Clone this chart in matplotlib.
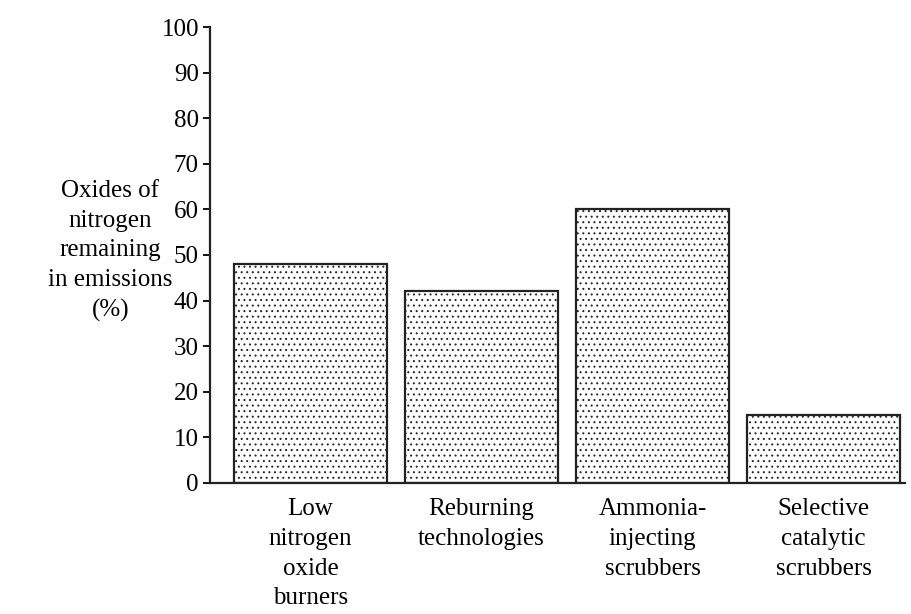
import numpy as np
import matplotlib.pyplot as plt

categories = ['Low\nnitrogen\noxide\nburners', 'Reburning\ntechnologies',
              'Ammonia-\ninjecting\nscrubbers', 'Selective\ncatalytic\nscrubbers']
values = [48, 42, 60, 15]
yticks = list(range(0, 101, 10))

plt.rcParams['font.family'] = ['Liberation Serif', 'DejaVu Serif']
plt.rcParams['hatch.color'] = '#8a8a8a'
plt.rcParams['hatch.linewidth'] = 0.7

fig = plt.figure(figsize=(9.11, 6.14), dpi=100)
ax = fig.add_axes([0.2305, 0.2134, 0.763, 0.7426])

x = np.arange(len(values))
ax.bar(x, values, width=0.895, color='white', edgecolor='#222222',
       linewidth=1.6, hatch='...')

ax.set_xlim(-0.588, 3.477)
ax.set_ylim(0, 100)
ax.set_yticks(yticks)
ax.set_xticks(x)
ax.set_xticklabels(categories, fontsize=18, linespacing=1.45, va='top')
ax.tick_params(axis='x', length=0, pad=11)
ax.tick_params(axis='y', labelsize=18, length=5, width=1.3, pad=3)

for s in ['top', 'right']:
    ax.spines[s].set_visible(False)
for s in ['left', 'bottom']:
    ax.spines[s].set_linewidth(1.6)
    ax.spines[s].set_color('#222222')

fig.text(0.121, 0.591, 'Oxides of\nnitrogen\nremaining\nin emissions\n(%)',
         ha='center', va='center', fontsize=18, linespacing=1.45)

fig.savefig('out.png', dpi=100)
